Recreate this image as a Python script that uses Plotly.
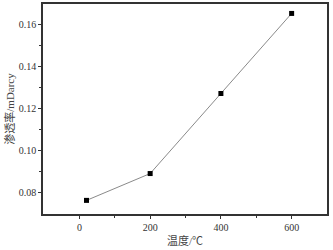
import plotly.graph_objects as go

temps = [20, 200, 400, 600]
perm = [0.0763, 0.0891, 0.1273, 0.1655]
x_ticks = [0, 200, 400, 600]
y_ticks = [0.08, 0.10, 0.12, 0.14, 0.16]

fig = go.Figure()
fig.add_trace(go.Scatter(
    x=temps, y=perm, mode="lines+markers",
    line=dict(color="#8a8a8a", width=1),
    marker=dict(symbol="square", size=5, color="black"),
    showlegend=False,
))

axis_common = dict(
    showline=True, linecolor="#333333", linewidth=1.5, mirror=True,
    ticks="outside", ticklen=3, tickwidth=1, tickcolor="#333333",
    showgrid=False, zeroline=False, automargin=False,
    tickfont=dict(family="Liberation Serif", size=10, color="#333333"),
)

fig.update_xaxes(
    range=[-103, 700], tickvals=x_ticks, ticktext=[str(v) for v in x_ticks],
    minor=dict(tickvals=[100, 300, 500], ticks="outside", ticklen=2, tickcolor="#333333"),
    title=dict(text="温度/℃", font=dict(family="Liberation Serif, Noto Sans CJK SC", size=11, color="#444444"), standoff=6),
    **axis_common,
)
fig.update_yaxes(
    range=[0.0698, 0.170], tickvals=y_ticks, ticktext=[f"{v:.2f}" for v in y_ticks],
    minor=dict(tickvals=[0.09, 0.11, 0.13, 0.15], ticks="outside", ticklen=2, tickcolor="#333333"),
    title=dict(text="渗透率/mDarcy", font=dict(family="Liberation Serif, Noto Sans CJK SC", size=11, color="#444444"), standoff=2),
    **axis_common,
)

fig.update_layout(
    width=333, height=250,
    margin=dict(l=43, r=6, t=4, b=36),
    plot_bgcolor="white", paper_bgcolor="white",
)

fig.write_html("out.html", config={"displayModeBar": False},
               post_script="document.body.style.margin='0';")
